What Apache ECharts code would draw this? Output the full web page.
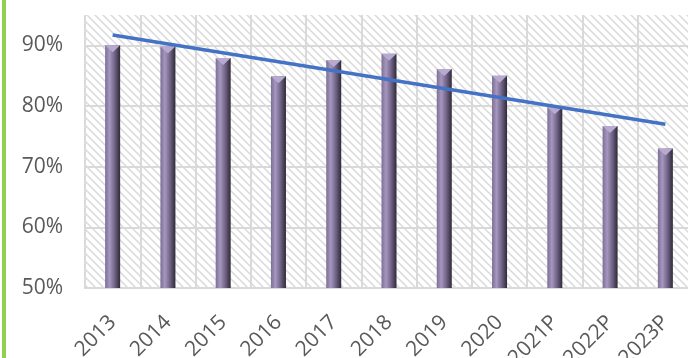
<!DOCTYPE html>
<html>
<head>
<meta charset="utf-8">
<script src="https://cdn.jsdelivr.net/npm/echarts@6/dist/echarts.min.js"></script>
</head>
<body style="margin:0">
<div id="main" style="width:688px;height:358px;"></div>
<script type="text/javascript">
// data
var years = ['2013', '2014', '2015', '2016', '2017', '2018', '2019', '2020', '2021P', '2022P', '2023P'];
var rates = [90.0, 89.8, 87.9, 84.9, 87.6, 88.6, 86.1, 85.0, 79.8, 76.7, 73.0];
// trend line, only the two ends are drawn
var trend = [91.7, null, null, null, null, null, null, null, null, null, 77.0];
var yTicks = { min: 50, max: 95, step: 10 };

// hatched background for the plot area
var pc = document.createElement('canvas');
pc.width = 8;
pc.height = 8;
var ctx = pc.getContext('2d');
ctx.fillStyle = '#ffffff';
ctx.fillRect(0, 0, 8, 8);
ctx.strokeStyle = '#dadada';
ctx.lineWidth = 1.5;
ctx.beginPath();
ctx.moveTo(-1, -1); ctx.lineTo(9, 9);
ctx.moveTo(-1, 7); ctx.lineTo(1, 9);
ctx.moveTo(7, -1); ctx.lineTo(9, 1);
ctx.stroke();

var myChart = echarts.init(document.getElementById('main'));
var font = '"Open Sans", sans-serif';

var option = {
    animation: false,
    backgroundColor: '#ffffff',
    graphic: [{
        type: 'rect',
        left: 2,
        top: 0,
        shape: { width: 4, height: 358 },
        style: { fill: '#92d050' }
    }],
    grid: {
        show: true,
        left: 85,
        top: 15,
        width: 608,
        height: 273,
        outerBoundsMode: 'none',
        containLabel: false,
        borderWidth: 0,
        backgroundColor: { image: pc, repeat: 'repeat' }
    },
    xAxis: {
        type: 'category',
        data: years,
        axisLine: { lineStyle: { color: '#d9d9d9', width: 2 } },
        axisTick: { show: false },
        splitLine: { show: true, lineStyle: { color: '#d9d9d9', width: 2 } },
        axisLabel: {
            rotate: 45,
            margin: 31,
            color: '#595959',
            fontSize: 21,
            fontFamily: font
        }
    },
    yAxis: {
        type: 'value',
        min: yTicks.min,
        max: yTicks.max,
        interval: yTicks.step,
        axisLine: { show: false },
        axisTick: { show: false },
        splitLine: { show: true, showMaxLine: false, lineStyle: { color: '#d9d9d9', width: 2 } },
        axisLabel: {
            showMaxLabel: false,
            margin: 22,
            color: '#595959',
            fontSize: 21,
            fontFamily: font,
            formatter: '{value}%'
        }
    },
    series: [{
        type: 'bar',
        data: rates,
        barWidth: 15,
        itemStyle: {
            color: new echarts.graphic.LinearGradient(0, 0, 1, 0, [
                { offset: 0, color: '#7d6e95' },
                { offset: 0.3, color: '#a597be' },
                { offset: 0.65, color: '#6f6285' },
                { offset: 1, color: '#2e2937' }
            ])
        },
        z: 2
    }, {
        // lighter cap on top of each bar
        type: 'pictorialBar',
        data: rates,
        symbol: 'path://M0,0 L2,0 L1,1 Z',
        symbolSize: [15, 7],
        symbolPosition: 'end',
        itemStyle: { color: '#b7a9cf' },
        silent: true,
        z: 3
    }, {
        type: 'line',
        data: trend,
        connectNulls: true,
        symbol: 'none',
        lineStyle: { color: '#4472c4', width: 3.5 },
        z: 5
    }]
};
myChart.setOption(option);
</script>
</body>
</html>
